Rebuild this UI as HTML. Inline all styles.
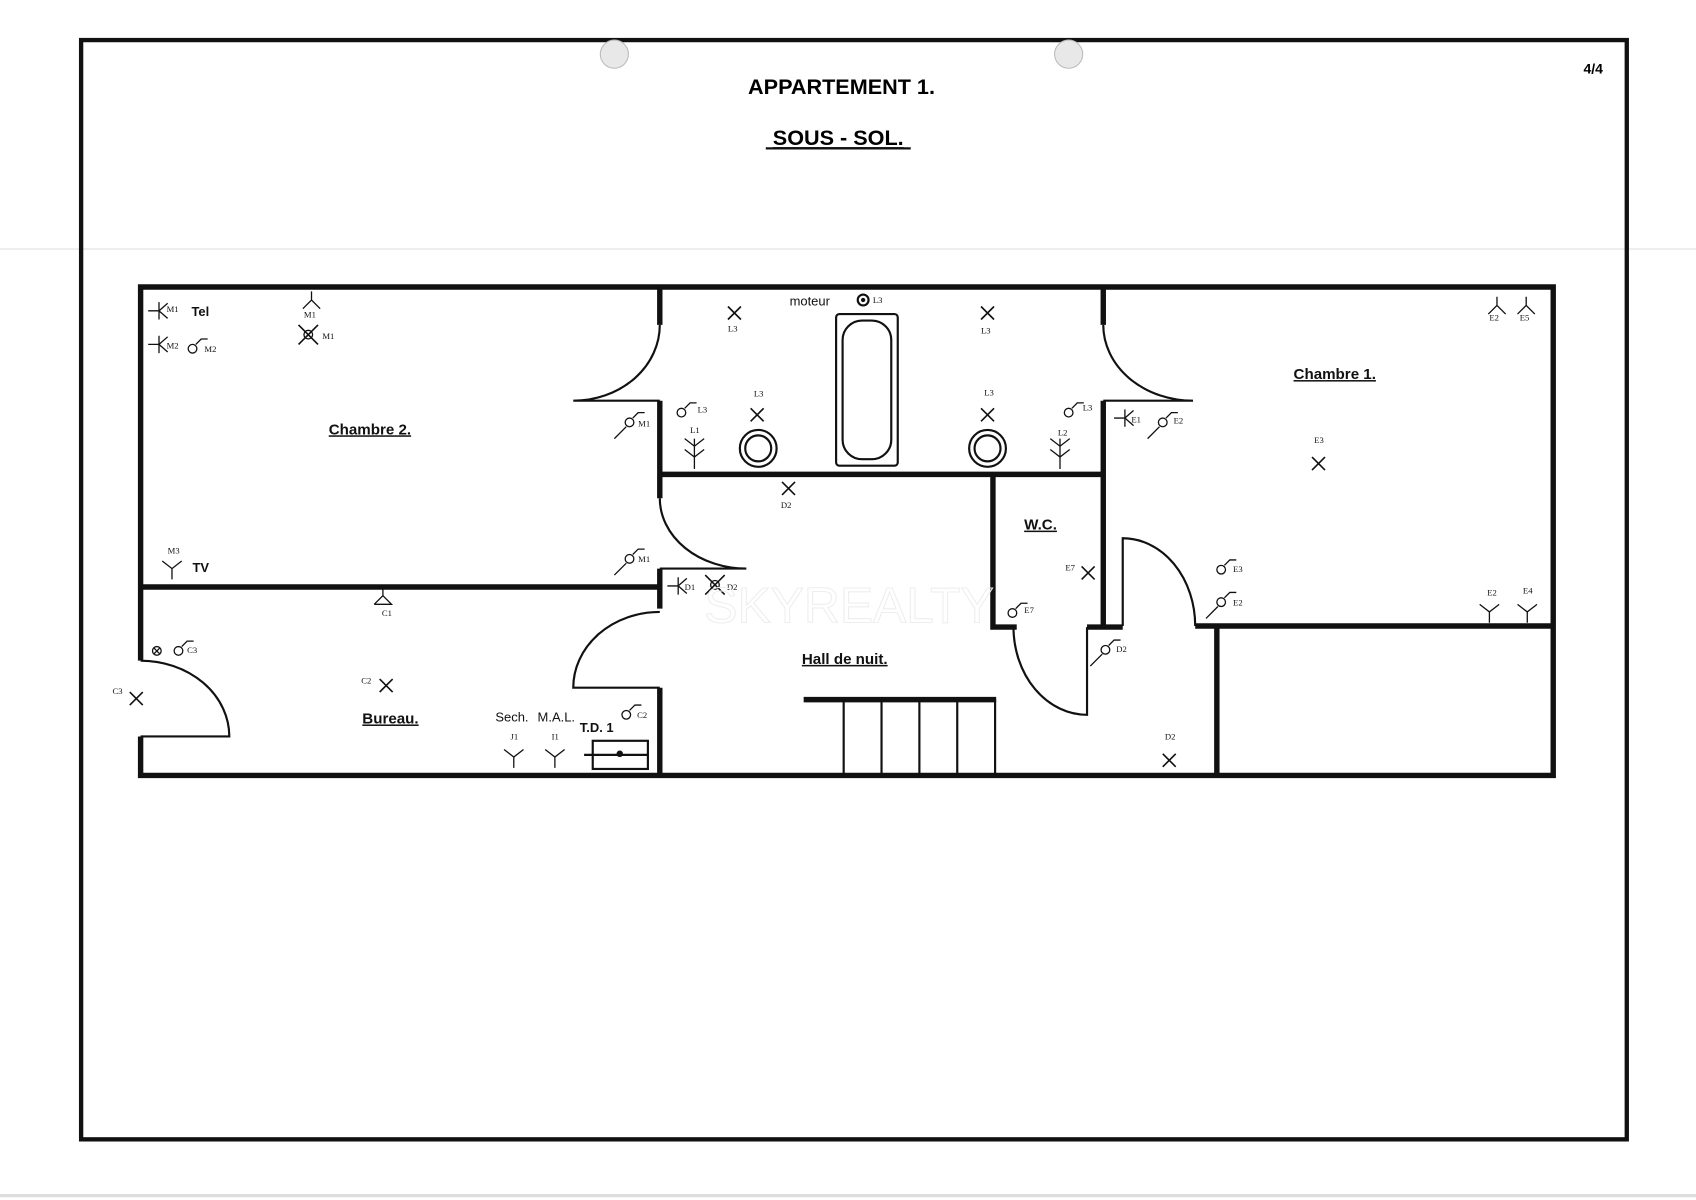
<!DOCTYPE html>
<html><head><meta charset="utf-8"><style>
html,body{margin:0;padding:0;background:#fff;}
svg{display:block;}
text{font-family:"Liberation Sans",sans-serif;}
.s{font-family:"Liberation Serif",serif;font-size:8px;}
</style></head><body>
<svg width="1696" height="1200" viewBox="0 0 1568 1108" preserveAspectRatio="none" xmlns="http://www.w3.org/2000/svg">
<rect width="1568" height="1108" fill="#fff"/>
<line x1="0" y1="230" x2="1568" y2="230" stroke="#eee" stroke-width="2"/>
<line x1="0" y1="1104" x2="1568" y2="1104" stroke="#ddd" stroke-width="3"/>
<rect x="75" y="37" width="1429" height="1015" fill="none" stroke="#111" stroke-width="4"/>
<circle cx="568" cy="50" r="13" fill="#e8e8e8" stroke="#bbb"/>
<circle cx="988" cy="50" r="13" fill="#e8e8e8" stroke="#bbb"/>
<text x="778" y="87" text-anchor="middle" font-weight="bold" font-size="20">APPARTEMENT  1.</text>
<text x="775" y="134" text-anchor="middle" font-weight="bold" font-size="20" text-decoration="underline">SOUS - SOL.</text>
<line x1="708" y1="137" x2="842" y2="137" stroke="#111" stroke-width="2"/>
<text x="1473" y="68" text-anchor="middle" font-weight="bold" font-size="13">4/4</text>

<g stroke="#111" stroke-width="5" fill="none">
<!-- outer -->
<path d="M130 610 V265 H1436 V716 H130 V680"/>
<!-- x=610 -->
<path d="M610 265 V300 M610 370 V460 M610 525 V562 M610 635 V716"/>
<path d="M610 438 H1020"/>
<path d="M1020 265 V300 M1020 370 V578"/>
<path d="M918 438 V579 H940 M1005 579 H1038"/>
<path d="M1105 578 H1436 M1125 578 V716"/>
<path d="M130 542 H610"/>
<path d="M743 646 H921"/>
</g>
<g stroke="#111" stroke-width="2" fill="none">
<path d="M610 370 H530 A80 70 0 0 0 610 300"/>
<path d="M1020 370 H1103 A83 70 0 0 1 1020 300"/>
<path d="M610 525 H690 A80 65 0 0 1 610 460"/>
<path d="M610 635 H530 A80 70 0 0 1 610 565"/>
<path d="M130 680 H212 A82 70 0 0 0 130 610"/>
<path d="M1005 579 V660 A68 81 0 0 1 937 579"/>
<path d="M1038 578 V497 A67 81 0 0 1 1105 578"/>
<path d="M780 646 V716 M815 646 V716 M850 646 V716 M885 646 V716 M920 646 V716"/>
<rect x="773" y="290" width="57" height="140" rx="3"/>
<rect x="779" y="296" width="45" height="128" rx="18"/>
<circle cx="701" cy="414" r="17"/><circle cx="701" cy="414" r="12"/>
<circle cx="913" cy="414" r="17"/><circle cx="913" cy="414" r="12"/>
<rect x="548" y="684" width="51" height="26"/>
<line x1="540" y1="697" x2="600" y2="697"/>
<circle cx="798" cy="277" r="5"/>
</g>
<circle cx="573" cy="696" r="3" fill="#111"/>
<circle cx="798" cy="277" r="2" fill="#111"/>

<!-- lights (X symbols) -->
<g stroke="#111" stroke-width="1.5">
<path d="M673 283 l12 12 M685 283 l-12 12"/>
<path d="M907 283 l12 12 M919 283 l-12 12"/>
<path d="M694 377 l12 12 M706 377 l-12 12"/>
<path d="M907 377 l12 12 M919 377 l-12 12"/>
<path d="M723 445 l12 12 M735 445 l-12 12"/>
<path d="M1213 422 l12 12 M1225 422 l-12 12"/>
<path d="M1000 523 l12 12 M1012 523 l-12 12"/>
<path d="M351 627 l12 12 M363 627 l-12 12"/>
<path d="M120 639 l12 12 M132 639 l-12 12"/>
<path d="M1075 696 l12 12 M1087 696 l-12 12"/>
<path d="M652 531 l18 18 M670 531 l-18 18"/>
<path d="M276 300 l18 18 M294 300 l-18 18"/>
</g>
<g fill="none" stroke="#111" stroke-width="1.2">
<circle cx="661" cy="540" r="4"/><circle cx="285" cy="309" r="4"/>
<circle cx="582" cy="390" r="4"/><path d="M568 405 l11-11 M585 386 l5-5 h6"/>
<circle cx="582" cy="516" r="4"/><path d="M568 531 l11-11 M585 512 l5-5 h6"/>
<circle cx="630" cy="381" r="4"/><path d="M633 377 l5-5 h6"/>
<circle cx="988" cy="381" r="4"/><path d="M991 377 l5-5 h6"/>
<circle cx="1075" cy="390" r="4"/><path d="M1061 405 l11-11 M1078 386 l5-5 h6"/>
<circle cx="1129" cy="526" r="4"/><path d="M1132 522 l5-5 h6"/>
<circle cx="1129" cy="556" r="4"/><path d="M1115 571 l11-11 M1132 552 l5-5 h6"/>
<circle cx="936" cy="566" r="4"/><path d="M939 562 l5-5 h6"/>
<circle cx="1022" cy="600" r="4"/><path d="M1008 615 l11-11 M1025 596 l5-5 h6"/>
<circle cx="579" cy="660" r="4"/><path d="M582 656 l5-5 h6"/>
<circle cx="178" cy="322" r="4"/><path d="M181 318 l5-5 h6"/>
<circle cx="165" cy="601" r="4"/><path d="M168 597 l5-5 h6"/>
<circle cx="145" cy="601" r="4"/><path d="M142 598 l6 6 M148 598 l-6 6"/>
<path d="M137 287 h10 M147 279 v16 M147 287 l8-7 M147 287 l8 7"/>
<path d="M137 318 h10 M147 310 v16 M147 318 l8-7 M147 318 l8 7"/>
<path d="M1030 386 h10 M1040 378 v16 M1040 386 l8-7 M1040 386 l8 7"/>
<path d="M617 541 h10 M627 533 v16 M627 541 l8-7 M627 541 l8 7"/>
<path d="M150 518 l9 7 l9 -7 M159 525 v10"/>
<path d="M466 692 l9 7 l9 -7 M475 699 v10"/>
<path d="M504 692 l9 7 l9 -7 M513 699 v10"/>
<path d="M1368 558 l9 7 l9 -7 M1377 565 v10"/>
<path d="M1403 558 l9 7 l9 -7 M1412 565 v10"/>
<path d="M633 405 l9 7 l9 -7 M633 415 l9 7 l9-7 M642 405 v28"/>
<path d="M971 405 l9 7 l9 -7 M971 415 l9 7 l9-7 M980 405 v28"/>
<path d="M1376 290 l8 -8 l8 8 M1384 282 v-8"/>
<path d="M1403 290 l8 -8 l8 8 M1411 282 v-8"/>
<path d="M280 285 l8 -8 l8 8 M288 277 v-8"/>
<path d="M346 558 l8 -8 l8 8 h-16 M354 550 v-7"/>
</g>
<g class="s" fill="#111">
<text x="154" y="288" class="s">M1</text><text x="154" y="322" class="s">M2</text><text x="189" y="325" class="s">M2</text>
<text x="281" y="293" class="s">M1</text><text x="298" y="313" class="s">M1</text>
<text x="590" y="394" class="s">M1</text><text x="590" y="519" class="s">M1</text>
<text x="155" y="511" class="s">M3</text><text x="353" y="569" class="s">C1</text>
<text x="173" y="603" class="s">C3</text><text x="104" y="641" class="s">C3</text><text x="334" y="631" class="s">C2</text>
<text x="589" y="663" class="s">C2</text><text x="472" y="683" class="s">J1</text><text x="510" y="683" class="s">I1</text>
<text x="673" y="306" class="s">L3</text><text x="807" y="280" class="s">L3</text><text x="907" y="308" class="s">L3</text>
<text x="697" y="366" class="s">L3</text><text x="910" y="365" class="s">L3</text><text x="645" y="381" class="s">L3</text>
<text x="1001" y="379" class="s">L3</text><text x="638" y="400" class="s">L1</text><text x="978" y="402" class="s">L2</text>
<text x="722" y="469" class="s">D2</text><text x="633" y="545" class="s">D1</text><text x="672" y="545" class="s">D2</text>
<text x="1032" y="602" class="s">D2</text><text x="1077" y="683" class="s">D2</text>
<text x="1046" y="390" class="s">E1</text><text x="1085" y="391" class="s">E2</text><text x="1215" y="409" class="s">E3</text>
<text x="1140" y="528" class="s">E3</text><text x="1140" y="559" class="s">E2</text><text x="985" y="527" class="s">E7</text>
<text x="947" y="566" class="s">E7</text><text x="1375" y="550" class="s">E2</text><text x="1408" y="548" class="s">E4</text>
<text x="1377" y="296" class="s">E2</text><text x="1405" y="296" class="s">E5</text>
</g>
<g font-size="12" fill="#111">
<text x="177" y="292" font-weight="bold">Tel</text>
<text x="178" y="528" font-weight="bold">TV</text>
<text x="730" y="282">moteur</text>
<text x="458" y="666">Sech.</text><text x="497" y="666">M.A.L.</text>
<text x="536" y="676" font-weight="bold">T.D. 1</text>
</g>
<g font-size="14" font-weight="bold" fill="#111" text-decoration="underline">
<text x="342" y="401" text-anchor="middle">Chambre 2.</text>
<text x="1234" y="350" text-anchor="middle">Chambre 1.</text>
<text x="962" y="489" text-anchor="middle">W.C.</text>
<text x="781" y="613" text-anchor="middle">Hall de nuit.</text>
<text x="361" y="668" text-anchor="middle">Bureau.</text>
</g>
<text x="785" y="575" text-anchor="middle" font-size="46" fill="none" stroke="#eee" stroke-width="1">SKYREALTY</text>
</svg>
</body></html>
